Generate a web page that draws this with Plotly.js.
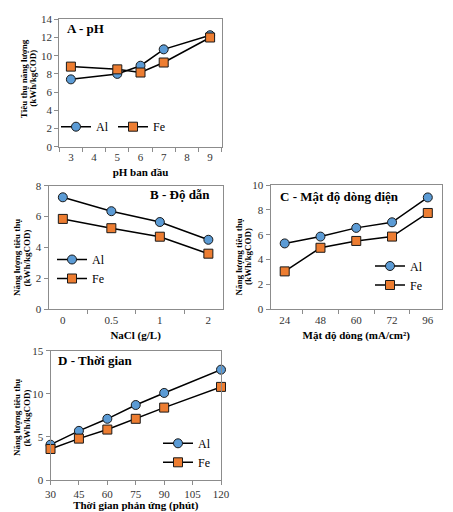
<!DOCTYPE html>
<html>
<head>
<meta charset="utf-8">
<script src="https://cdn.plot.ly/plotly-3.0.1.min.js"></script>
<style>html,body{margin:0;padding:0;background:#fff;}#chart{width:453px;height:512px;}</style>
</head>
<body>
<div id="chart"></div>
<script>
// ---- Data ----
const phTicks = [3, 4, 5, 6, 7, 8, 9];
const phX = [3, 5, 6, 7, 9];
const phAl = [7.4, 8.0, 8.9, 10.7, 12.25];
const phFe = [8.8, 8.5, 8.15, 9.25, 12.0];

const naclCats = ['0', '0.5', '1', '2'];
const naclAl = [7.25, 6.35, 5.65, 4.5];
const naclFe = [5.85, 5.25, 4.7, 3.6];

const cdCats = ['24', '48', '60', '72', '96'];
const cdAl = [5.3, 5.85, 6.55, 7.0, 9.0];
const cdFe = [3.05, 4.95, 5.5, 5.85, 7.75];

const timeX = [30, 45, 60, 75, 90, 120];
const timeAl = [4.1, 5.7, 7.1, 8.7, 10.1, 12.8];
const timeFe = [3.6, 4.8, 5.85, 7.1, 8.4, 10.8];

const yTitleA = ['Tiêu thụ năng lượng', '(kWh/kgCOD)'];
const yTitleB = ['Năng lượng tiêu thụ', '(kWh/kgCOD)'];

// ---- Styles ----
const FONT = 'Liberation Serif';
const alMarker = {symbol: 'circle', size: 9, color: '#5B9BD5', line: {color: '#1a1a1a', width: 1}};
const feMarker = {symbol: 'square', size: 9, color: '#ED7D31', line: {color: '#1a1a1a', width: 1}};
const lineStyle = {color: '#000', width: 1.5};

function tr(x, y, name, marker, xa, ya, leg) {
  return {x: x, y: y, name: name, type: 'scatter', mode: 'lines+markers',
    marker: marker, line: lineStyle, xaxis: xa, yaxis: ya, legend: leg, cliponaxis: false};
}

const data = [
  tr(phX, phAl, 'Al', alMarker, 'x', 'y', 'legend'),
  tr(phX, phFe, 'Fe', feMarker, 'x', 'y', 'legend'),
  tr(naclCats, naclAl, 'Al', alMarker, 'x2', 'y2', 'legend2'),
  tr(naclCats, naclFe, 'Fe', feMarker, 'x2', 'y2', 'legend2'),
  tr(cdCats, cdAl, 'Al', alMarker, 'x3', 'y3', 'legend3'),
  tr(cdCats, cdFe, 'Fe', feMarker, 'x3', 'y3', 'legend3'),
  tr(timeX, timeAl, 'Al', alMarker, 'x4', 'y4', 'legend4'),
  tr(timeX, timeFe, 'Fe', feMarker, 'x4', 'y4', 'legend4')
];

const W = 453, H = 512;
const px = v => v / W;
const py = v => 1 - v / H;

const tickFont = {family: FONT, size: 11, color: '#333'};
const titleFont = {family: FONT, size: 11, color: '#000', weight: 'bold'};
const yTitleFont = {family: FONT, size: 9, color: '#000', weight: 'bold'};

function ax(domain, anchor, extra) {
  return Object.assign({domain: domain, anchor: anchor, showline: true, mirror: true,
    linecolor: '#8c8c8c', linewidth: 1, showgrid: false, zeroline: false,
    ticks: 'outside', ticklen: 4, tickcolor: '#8c8c8c', tickfont: tickFont, fixedrange: true}, extra);
}

const legBase = {font: {family: FONT, size: 12, color: '#000'}, bgcolor: 'rgba(0,0,0,0)',
  borderwidth: 0, itemwidth: 30, xanchor: 'left', yanchor: 'middle'};

// two-line rotated y-axis title (lines placed with a tight pitch like the original)
function yTitle(lines, xPix, yPix) {
  return lines.map((t, i) => ({text: t, xref: 'paper', yref: 'paper', x: px(xPix + i * 9.5), y: py(yPix),
    textangle: -90, xanchor: 'center', yanchor: 'middle', showarrow: false, font: yTitleFont}));
}
function panelTitle(text, xr, yr, x, y, anchor) {
  return {text: text, xref: xr, yref: yr, x: x, y: y, xanchor: anchor, yanchor: 'middle',
    showarrow: false, font: {family: FONT, size: 13, color: '#000', weight: 'bold'}};
}

const layout = {
  width: W, height: H,
  margin: {l: 0, r: 0, t: 0, b: 0},
  paper_bgcolor: '#fff', plot_bgcolor: '#fff',
  font: {family: FONT},
  xaxis: ax([px(59.3), px(221.7)], 'y', {
    range: [2.5, 9.5], tickvals: phTicks, ticktext: phTicks.map(String), ticks: '',
    minor: {tickvals: phTicks.map(t => t - 0.5).concat([phTicks[phTicks.length - 1] + 0.5]), ticks: 'outside', ticklen: 4, tickcolor: '#8c8c8c'},
    title: {text: 'pH ban đầu', font: titleFont, standoff: 6}}),
  yaxis: ax([py(146.7), py(19.3)], 'x', {range: [0, 14], dtick: 2}),
  xaxis2: ax([px(48.5), px(222.7)], 'y2', {
    type: 'category', tickson: 'boundaries',
    title: {text: 'NaCl (g/L)', font: titleFont, standoff: 6}}),
  yaxis2: ax([py(309.3), py(185.7)], 'x2', {range: [0, 8], dtick: 2}),
  xaxis3: ax([px(270.5), px(442)], 'y3', {
    type: 'category', tickson: 'boundaries',
    title: {text: 'Mật độ dòng (mA/cm²)', font: titleFont, standoff: 6}}),
  yaxis3: ax([py(309.3), py(185)], 'x3', {range: [0, 10], dtick: 2}),
  xaxis4: ax([px(50.5), px(221)], 'y4', {
    range: [30, 120], dtick: 15,
    title: {text: 'Thời gian phản ứng (phút)', font: titleFont, standoff: 4}}),
  yaxis4: ax([py(480), py(350.7)], 'x4', {range: [0, 15], dtick: 5}),
  legend: Object.assign({}, legBase, {orientation: 'h', entrywidth: 12, x: px(56), y: py(126.7)}),
  legend2: Object.assign({}, legBase, {x: px(52), y: py(269)}),
  legend3: Object.assign({}, legBase, {x: px(370), y: py(275.5)}),
  legend4: Object.assign({}, legBase, {x: px(158), y: py(452.8), tracegroupgap: 0}),
  annotations: [
    panelTitle('A - pH', 'x domain', 'y domain', 0.035, 0.924, 'left'),
    panelTitle('B - Độ dẫn', 'x2 domain', 'y2 domain', 0.94, 0.925, 'right'),
    panelTitle('C - Mật độ dòng điện', 'x3 domain', 'y3 domain', 0.044, 0.906, 'left'),
    panelTitle('D - Thời gian', 'x4 domain', 'y4 domain', 0.032, 0.923, 'left')
  ].concat(
    yTitle(yTitleA, 23.5, 78.7),
    yTitle(yTitleB, 17, 258),
    yTitle(yTitleB, 238.5, 257),
    yTitle(yTitleB, 17, 418)
  )
};

Plotly.newPlot('chart', data, layout, {displayModeBar: false, staticPlot: true});
</script>
</body>
</html>
